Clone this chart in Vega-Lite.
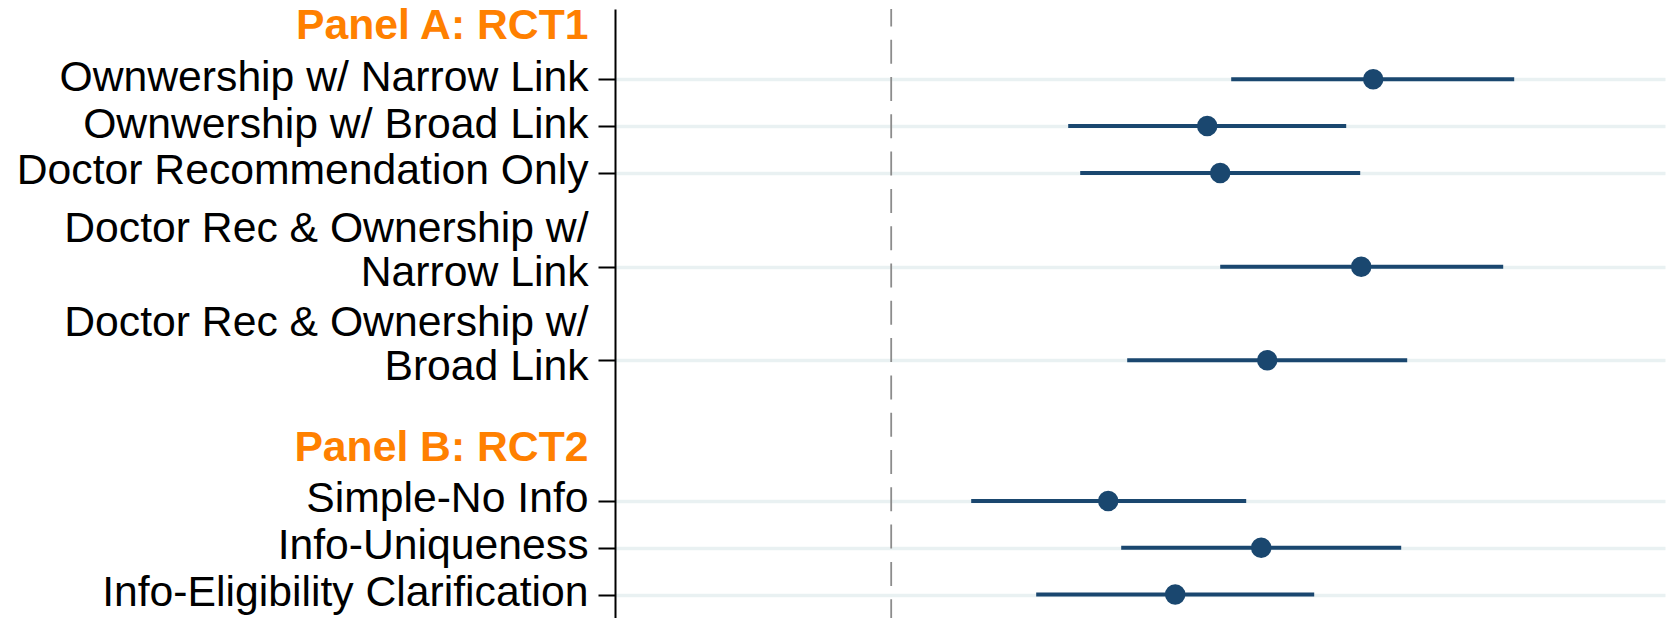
{
  "$schema": "https://vega.github.io/schema/vega-lite/v6.json",
  "autosize": "none",
  "width": 1050,
  "height": 609,
  "padding": {"left": 615, "top": 9, "right": 13, "bottom": 0},
  "background": "white",
  "config": {"view": {"stroke": null}, "font": "Liberation Sans"},
  "datasets": {
    "est": [
      {"pos": 0, "treatment": "Ownwership w/ Narrow Link", "coef": 4.82, "lo": 3.40, "hi": 6.23},
      {"pos": 1, "treatment": "Ownwership w/ Broad Link", "coef": 3.16, "lo": 1.77, "hi": 4.55},
      {"pos": 2, "treatment": "Doctor Recommendation Only", "coef": 3.29, "lo": 1.89, "hi": 4.69},
      {"pos": 4, "treatment": "Doctor Rec & Ownership w/ Narrow Link", "coef": 4.70, "lo": 3.29, "hi": 6.12},
      {"pos": 6, "treatment": "Doctor Rec & Ownership w/ Broad Link", "coef": 3.76, "lo": 2.36, "hi": 5.16},
      {"pos": 9, "treatment": "Simple-No Info", "coef": 2.17, "lo": 0.80, "hi": 3.55},
      {"pos": 10, "treatment": "Info-Uniqueness", "coef": 3.70, "lo": 2.30, "hi": 5.10},
      {"pos": 11, "treatment": "Info-Eligibility Clarification", "coef": 2.84, "lo": 1.45, "hi": 4.23}
    ],
    "ref": [{"zero": 0}]
  },
  "layer": [
    {
      "data": {"name": "ref"},
      "mark": {"type": "rule", "color": "#8c8c8c", "strokeWidth": 1.8, "strokeDash": [24, 13.3], "strokeDashOffset": 6.6},
      "encoding": {
        "x": {"field": "zero", "type": "quantitative", "scale": {"domain": [-2.762, 7.738], "nice": false, "zero": false}, "axis": null}
      }
    },
    {
      "data": {"name": "est"},
      "mark": {"type": "rule", "color": "#1a476f", "strokeWidth": 4},
      "encoding": {
        "y": {
          "field": "pos",
          "type": "quantitative",
          "scale": {"domain": [-1.5, 11.5], "reverse": true, "nice": false, "zero": false},
          "axis": {
            "title": null,
            "values": [-1, 0, 1, 2, 4, 6, 8, 9, 10, 11],
            "labelExpr": "datum.value == -1 ? 'Panel A: RCT1' : datum.value == 0 ? 'Ownwership w/ Narrow Link' : datum.value == 1 ? 'Ownwership w/ Broad Link' : datum.value == 2 ? 'Doctor Recommendation Only' : datum.value == 4 ? ['Doctor Rec & Ownership w/', 'Narrow Link'] : datum.value == 6 ? ['Doctor Rec & Ownership w/', 'Broad Link'] : datum.value == 8 ? 'Panel B: RCT2' : datum.value == 9 ? 'Simple-No Info' : datum.value == 10 ? 'Info-Uniqueness' : 'Info-Eligibility Clarification'",
            "labelFont": "Liberation Sans",
            "labelFontSize": 42.7,
            "labelLineHeight": 44,
            "labelColor": {"condition": {"test": "datum.value == -1 || datum.value == 8", "value": "#ff8000"}, "value": "#000000"},
            "labelFontWeight": {"condition": {"test": "datum.value == -1 || datum.value == 8", "value": "bold"}, "value": "normal"},
            "labelOffset": {"condition": [{"test": "datum.value == 4 || datum.value == 6", "value": -38}, {"test": "datum.value == -1 || datum.value == 8", "value": -7}], "value": -2},
            "labelPadding": 10,
            "labelBaseline": "middle",
            "labelAlign": "right",
            "labelOverlap": false,
            "labelFlush": false,
            "labelBound": false,
            "labelLimit": 0,
            "domainColor": "#000000",
            "domainWidth": 2,
            "tickColor": "#000000",
            "tickWidth": 2,
            "tickSize": 17,
            "tickOpacity": {"condition": {"test": "datum.value == -1 || datum.value == 8", "value": 0}, "value": 1},
            "grid": true,
            "gridColor": "#e9f1f2",
            "gridWidth": 3.3,
            "gridOpacity": {"condition": {"test": "datum.value == -1 || datum.value == 8", "value": 0}, "value": 1}
          }
        },
        "x": {"field": "lo", "type": "quantitative"},
        "x2": {"field": "hi"}
      }
    },
    {
      "data": {"name": "est"},
      "mark": {"type": "point", "shape": "circle", "filled": true, "opacity": 1, "size": 420, "color": "#1a476f"},
      "encoding": {
        "y": {"field": "pos", "type": "quantitative"},
        "x": {"field": "coef", "type": "quantitative"}
      }
    }
  ]
}
